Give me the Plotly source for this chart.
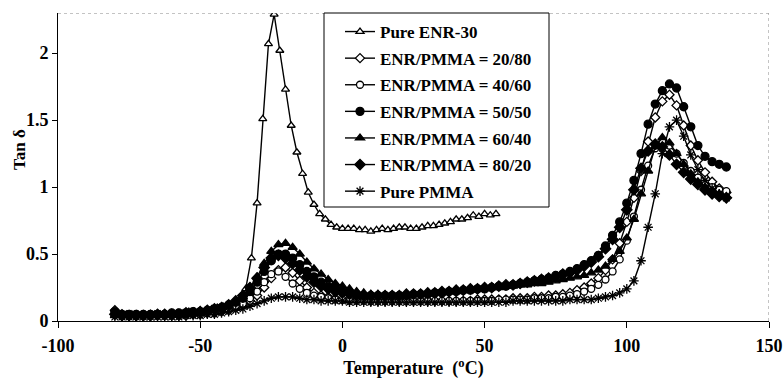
import plotly.graph_objects as go

# Temperature grids (deg C)
temp_enr = [-80, -78, -76, -74, -72, -70, -68, -66, -64, -62,
            -60, -58, -56, -54, -52, -50, -48, -46, -44, -42,
            -40, -38, -36, -34, -32, -30, -28, -26, -24, -22,
            -20, -18, -16, -14, -12, -10, -8, -6, -4, -2,
            0, 2, 4, 6, 8, 10, 12, 14, 16, 18,
            20, 22, 24, 26, 28, 30, 32, 34, 36, 38,
            40, 42, 44, 46, 48, 50, 52, 54]

temp_blend = [-80, -77.5, -75, -72.5, -70, -67.5, -65, -62.5, -60, -57.5,
              -55, -52.5, -50, -47.5, -45, -42.5, -40, -37.5, -35, -32.5,
              -30, -27.5, -25, -22.5, -20, -17.5, -15, -12.5, -10, -7.5,
              -5, -2.5, 0, 2.5, 5, 7.5, 10, 12.5, 15, 17.5,
              20, 22.5, 25, 27.5, 30, 32.5, 35, 37.5, 40, 42.5,
              45, 47.5, 50, 52.5, 55, 57.5, 60, 62.5, 65, 67.5,
              70, 72.5, 75, 77.5, 80, 82.5, 85, 87.5, 90, 92.5,
              95, 97.5, 100, 102.5, 105, 107.5, 110, 112.5, 115, 117.5,
              120, 122.5, 125, 127.5, 130, 132.5, 135]

# Tan delta values
tan_enr30 = [0.08, 0.05, 0.05, 0.05, 0.05, 0.05, 0.05, 0.05, 0.05, 0.05,
             0.06, 0.06, 0.06, 0.07, 0.07, 0.08, 0.08, 0.09, 0.10, 0.11,
             0.12, 0.14, 0.17, 0.24, 0.47, 0.88, 1.51, 2.07, 2.29, 2.02,
             1.73, 1.46, 1.26, 1.10, 0.96, 0.87, 0.80, 0.76, 0.72, 0.70,
             0.69, 0.69, 0.69, 0.68, 0.68, 0.67, 0.68, 0.69, 0.68, 0.69,
             0.70, 0.70, 0.69, 0.69, 0.70, 0.71, 0.71, 0.72, 0.73, 0.74,
             0.76, 0.76, 0.77, 0.79, 0.78, 0.80, 0.79, 0.80]

tan_20_80 = [0.08, 0.05, 0.04, 0.04, 0.04, 0.04, 0.04, 0.04, 0.04, 0.04,
             0.04, 0.05, 0.05, 0.06, 0.06, 0.07, 0.08, 0.10, 0.12, 0.15,
             0.19, 0.25, 0.32, 0.38, 0.40, 0.36, 0.30, 0.25, 0.21, 0.19,
             0.18, 0.17, 0.16, 0.16, 0.16, 0.16, 0.15, 0.15, 0.15, 0.15,
             0.15, 0.15, 0.15, 0.15, 0.15, 0.15, 0.15, 0.15, 0.15, 0.15,
             0.15, 0.16, 0.16, 0.16, 0.16, 0.16, 0.17, 0.17, 0.17, 0.18,
             0.18, 0.19, 0.19, 0.20, 0.21, 0.23, 0.25, 0.28, 0.32, 0.38,
             0.46, 0.58, 0.74, 0.92, 1.12, 1.34, 1.52, 1.64, 1.69, 1.61,
             1.46, 1.31, 1.20, 1.11, 1.04, 0.99, 0.96]

tan_40_60 = [0.05, 0.04, 0.04, 0.04, 0.04, 0.04, 0.04, 0.04, 0.04, 0.04,
             0.05, 0.05, 0.05, 0.06, 0.07, 0.08, 0.09, 0.11, 0.13, 0.17,
             0.22, 0.29, 0.35, 0.37, 0.33, 0.28, 0.24, 0.21, 0.19, 0.18,
             0.17, 0.16, 0.16, 0.15, 0.15, 0.15, 0.15, 0.15, 0.15, 0.15,
             0.15, 0.15, 0.15, 0.15, 0.15, 0.15, 0.15, 0.15, 0.15, 0.15,
             0.15, 0.15, 0.15, 0.15, 0.16, 0.16, 0.16, 0.16, 0.16, 0.17,
             0.17, 0.17, 0.18, 0.18, 0.19, 0.20, 0.22, 0.24, 0.27, 0.31,
             0.37, 0.46, 0.60, 0.78, 0.98, 1.16, 1.29, 1.34, 1.31, 1.25,
             1.18, 1.12, 1.07, 1.03, 1.00, 0.98, 0.97]

tan_50_50 = [0.07, 0.05, 0.05, 0.05, 0.05, 0.05, 0.05, 0.05, 0.06, 0.06,
             0.06, 0.07, 0.07, 0.08, 0.09, 0.10, 0.12, 0.14, 0.17, 0.22,
             0.29, 0.37, 0.45, 0.50, 0.50, 0.47, 0.42, 0.37, 0.33, 0.29,
             0.26, 0.24, 0.22, 0.21, 0.20, 0.19, 0.19, 0.19, 0.19, 0.19,
             0.19, 0.19, 0.20, 0.20, 0.20, 0.21, 0.21, 0.22, 0.22, 0.23,
             0.23, 0.24, 0.24, 0.25, 0.26, 0.26, 0.27, 0.28, 0.29, 0.30,
             0.31, 0.32, 0.34, 0.35, 0.37, 0.39, 0.42, 0.45, 0.49, 0.56,
             0.64, 0.74, 0.88, 1.05, 1.25, 1.47, 1.62, 1.72, 1.77, 1.74,
             1.60, 1.45, 1.31, 1.23, 1.19, 1.17, 1.15]

tan_60_40 = [0.04, 0.04, 0.04, 0.04, 0.04, 0.05, 0.05, 0.05, 0.05, 0.05,
             0.06, 0.06, 0.07, 0.08, 0.09, 0.10, 0.12, 0.14, 0.18, 0.25,
             0.33, 0.43, 0.52, 0.57, 0.58, 0.55, 0.50, 0.44, 0.39, 0.35,
             0.31, 0.28, 0.26, 0.24, 0.22, 0.21, 0.20, 0.20, 0.19, 0.19,
             0.19, 0.19, 0.20, 0.20, 0.20, 0.21, 0.21, 0.22, 0.22, 0.23,
             0.23, 0.24, 0.24, 0.25, 0.25, 0.26, 0.26, 0.27, 0.27, 0.28,
             0.28, 0.29, 0.30, 0.31, 0.32, 0.33, 0.34, 0.36, 0.38, 0.41,
             0.46, 0.52, 0.62, 0.76, 0.95, 1.12, 1.30, 1.37, 1.33, 1.25,
             1.17, 1.10, 1.04, 1.00, 0.97, 0.95, 0.93]

tan_80_20 = [0.05, 0.04, 0.04, 0.04, 0.04, 0.04, 0.05, 0.05, 0.05, 0.05,
             0.06, 0.06, 0.07, 0.08, 0.09, 0.10, 0.12, 0.15, 0.19, 0.25,
             0.32, 0.40, 0.47, 0.49, 0.47, 0.43, 0.38, 0.33, 0.29, 0.26,
             0.24, 0.22, 0.21, 0.20, 0.19, 0.19, 0.19, 0.19, 0.19, 0.19,
             0.19, 0.20, 0.20, 0.20, 0.21, 0.21, 0.22, 0.22, 0.23, 0.23,
             0.24, 0.24, 0.25, 0.25, 0.26, 0.27, 0.27, 0.28, 0.29, 0.30,
             0.31, 0.32, 0.33, 0.35, 0.36, 0.38, 0.41, 0.44, 0.48, 0.54,
             0.61, 0.70, 0.83, 0.98, 1.14, 1.27, 1.32, 1.30, 1.24, 1.17,
             1.11, 1.06, 1.02, 0.98, 0.95, 0.93, 0.92]

tan_pmma = [0.03, 0.03, 0.03, 0.03, 0.03, 0.03, 0.03, 0.03, 0.03, 0.03,
            0.04, 0.04, 0.04, 0.05, 0.05, 0.06, 0.07, 0.08, 0.09, 0.11,
            0.13, 0.15, 0.17, 0.18, 0.18, 0.18, 0.17, 0.16, 0.16, 0.15,
            0.15, 0.15, 0.15, 0.14, 0.14, 0.14, 0.14, 0.14, 0.14, 0.14,
            0.14, 0.14, 0.14, 0.14, 0.14, 0.14, 0.14, 0.14, 0.14, 0.14,
            0.14, 0.14, 0.14, 0.14, 0.14, 0.14, 0.15, 0.15, 0.15, 0.15,
            0.15, 0.15, 0.15, 0.15, 0.16, 0.16, 0.16, 0.16, 0.17, 0.18,
            0.19, 0.21, 0.24, 0.30, 0.45, 0.70, 0.95, 1.25, 1.45, 1.50,
            1.38, 1.24, 1.13, 1.05, 0.99, 0.95, 0.92]

x_ticks = [-100, -50, 0, 50, 100, 150]
x_tick_text = ["-100", "-50", "0", "50", "100", "150"]
y_ticks = [0, 0.5, 1, 1.5, 2]

FONT = "Liberation Serif"
W, H = 784, 383
ML, MR, MT, MB = 58, 15, 13, 62
PW, PH = W - ML - MR, H - MT - MB


def px_x(p):
    return (p - ML) / PW


def px_y(p):
    return (H - MB - p) / PH


series = [
    ("Pure ENR-30", temp_enr, tan_enr30, "triangle-up", "white", 7),
    ("ENR/PMMA = 20/80", temp_blend, tan_20_80, "diamond", "white", 7),
    ("ENR/PMMA = 40/60", temp_blend, tan_40_60, "circle", "white", 7),
    ("ENR/PMMA = 50/50", temp_blend, tan_50_50, "circle", "black", 8),
    ("ENR/PMMA = 60/40", temp_blend, tan_60_40, "triangle-up", "black", 8),
    ("ENR/PMMA = 80/20", temp_blend, tan_80_20, "diamond", "black", 8),
    ("Pure PMMA", temp_blend, tan_pmma, "asterisk-open", "black", 8),
]

fig = go.Figure()
for i, (name, xs, ys, sym, fill, size) in enumerate(series):
    fig.add_trace(go.Scatter(
        x=xs, y=ys, name=name, mode="lines+markers", legendgroup=f"g{i}",
        line=dict(color="black", width=1.4),
        marker=dict(symbol=sym, size=size, color=fill,
                    line=dict(color="black", width=1.3)),
    ))

# dotted frame on top and right
fig.add_shape(type="line", xref="x", yref="y", x0=-100, x1=150, y0=2.3, y1=2.3,
              line=dict(color="#888888", width=1, dash="dot"))
fig.add_shape(type="line", xref="x", yref="y", x0=150, x1=150, y0=0, y1=2.3,
              line=dict(color="#888888", width=1, dash="dot"))

# legend frame
fig.add_shape(type="rect", xref="paper", yref="paper", layer="above",
              x0=px_x(324), x1=px_x(549), y0=px_y(207), y1=px_y(13),
              fillcolor="white", line=dict(color="black", width=1))

fig.add_annotation(text="Tan δ", xref="paper", yref="paper",
                   x=px_x(19), y=px_y(150), textangle=-90, showarrow=False,
                   xanchor="center", yanchor="middle",
                   font=dict(family=FONT, size=17, color="black", weight="bold"))

fig.update_layout(
    width=W, height=H,
    margin=dict(l=ML, r=MR, t=MT, b=MB, autoexpand=False),
    paper_bgcolor="white", plot_bgcolor="white",
    font=dict(family=FONT, size=17, color="black", weight="bold"),
    legend=dict(x=px_x(340), y=px_y(14), xanchor="left", yanchor="top",
                bgcolor="rgba(0,0,0,0)", borderwidth=0, tracegroupgap=1.5,
                font=dict(family=FONT, size=17, color="black", weight="bold")),
    xaxis=dict(range=[-100, 150], tickvals=x_ticks, ticktext=x_tick_text,
               showgrid=False, zeroline=False, showline=True,
               linecolor="black", linewidth=1, automargin=False,
               ticks="outside", ticklen=6, tickcolor="black",
               ticklabelstandoff=2,
               tickfont=dict(family=FONT, size=18, weight="bold"),
               title=dict(text="Temperature  (<sup>o</sup>C)", standoff=5,
                          font=dict(family=FONT, size=18, weight="bold"))),
    yaxis=dict(range=[0, 2.3], tickvals=y_ticks, showgrid=False,
               zeroline=False, showline=True, linecolor="black", linewidth=1,
               automargin=False,
               ticks="outside", ticklen=5, tickcolor="black",
               tickfont=dict(family=FONT, size=18, weight="bold")),
)

fig.write_html("out.html")
